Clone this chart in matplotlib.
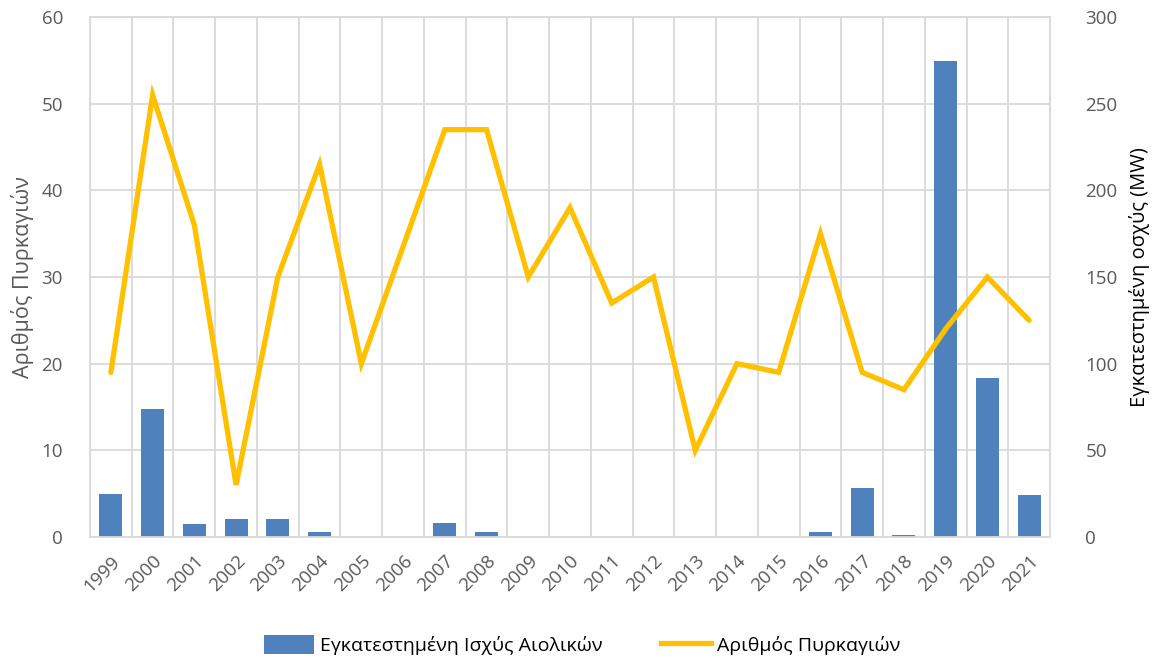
import matplotlib
matplotlib.use("Agg")
import matplotlib.pyplot as plt
from matplotlib.patches import Patch
from matplotlib.lines import Line2D
import numpy as np

years = [str(y) for y in range(1999, 2022)]
# Installed wind capacity (MW) - right axis
capacity_mw = [25, 74, 7.7, 10.3, 10.3, 2.9, 0, 0, 8.3, 2.9, 0, 0, 0, 0, 0, 0,
               0, 2.9, 28, 1.2, 274.5, 92, 24]
# Number of fires - left axis
fires = [19, 51, 36, 6, 30, 43, 20, 33.5, 47, 47, 30, 38, 27, 30, 10, 20,
         19, 35, 19, 17, 24, 30, 25]

bar_label = "Εγκατεστημένη Ισχύς Αιολικών"
line_label = "Αριθμός Πυρκαγιών"
left_ylabel = "Αριθμός Πυρκαγιών"
right_ylabel = "Εγκατεστημένη οσχύς (MW)"

plt.rcParams['font.family'] = ['Open Sans', 'DejaVu Sans']
gray = "#595959"
grid_c = "#D9D9D9"

fig = plt.figure(figsize=(11.57, 6.61), dpi=100)
ax = fig.add_axes([90/1157, 1-537/661, 960/1157, 520/661])
ax2 = ax.twinx()
x = np.arange(len(years))

# bars on primary axes (drawn below), scale shown on the right
ax.bar(x, capacity_mw, width=0.55, color="#4F81BD", zorder=2)
ax.set_ylim(0, 300)
ax.set_yticks(np.arange(0, 301, 50))
ax.set_xlim(-0.5, len(years) - 0.5)
ax.set_xticks(x)
ax.set_xticklabels(years, rotation=45, ha="right", rotation_mode="anchor",
                   color=gray, fontsize=13.5)
ax.set_xticks(np.arange(-0.5, len(years), 1), minor=True)
ax.tick_params(axis="x", which="both", length=0, pad=11)
ax.grid(True, axis="y", color=grid_c, linewidth=1.3, zorder=0)
ax.grid(True, axis="x", which="minor", color=grid_c, linewidth=1.3, zorder=0)
ax.set_axisbelow(True)
for s in ax.spines.values():
    s.set_color(grid_c)
    s.set_linewidth(1.3)

# line on twin axes, scale shown on the left
ax2.plot(x, fires, color="#FFC000", linewidth=3.8, solid_joinstyle="miter",
         solid_capstyle="round", zorder=3)
ax2.set_ylim(0, 60)
ax2.set_yticks(np.arange(0, 61, 10))
for s in ax2.spines.values():
    s.set_visible(False)

# swap tick sides (after twinx)
ax.yaxis.tick_right()
ax.yaxis.set_label_position("right")
ax2.yaxis.tick_left()
ax2.yaxis.set_label_position("left")
ax.tick_params(axis="y", which="both", left=False, right=False, labelleft=False,
               labelright=True, labelcolor=gray, labelsize=13.5, pad=22)
ax2.tick_params(axis="y", which="both", left=False, right=False, labelleft=True,
                labelright=False, labelcolor=gray, labelsize=13.5, pad=16)
ax.set_ylabel(right_ylabel, fontsize=14.5, color="black", labelpad=8)
ax2.set_ylabel(left_ylabel, fontsize=15.5, color=gray, labelpad=5)

handles = [Patch(facecolor="#4F81BD", edgecolor="none"),
           Line2D([0], [0], color="#FFC000", linewidth=3.8)]
fig.legend(handles, [bar_label, line_label], loc="center",
           bbox_to_anchor=(582/1157, 1-645/661), ncol=2, frameon=False,
           handlelength=2.6, handleheight=1.1, columnspacing=3.0,
           handletextpad=0.3,
           prop={'family': ['Open Sans', 'DejaVu Sans'], 'size': 14})

fig.savefig("out.png", dpi=100)
